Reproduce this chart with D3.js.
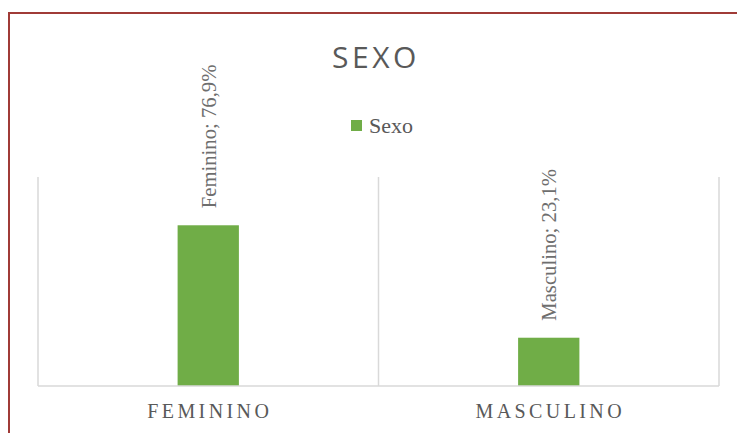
<!DOCTYPE html>
<html>
<head>
<meta charset="utf-8">
<script src="https://cdn.jsdelivr.net/npm/d3@7"></script>
<style>
  body { margin: 0; background: #fff; }
</style>
</head>
<body>
<div id="chart"></div>
<script>
// Chart data
var categories = ["Feminino", "Masculino"];
var axisLabels = ["FEMININO", "MASCULINO"];
var values = [76.9, 23.1];
var seriesName = "Sexo";
var chartTitle = "SEXO";

var width = 737;
var height = 433;
var plot = { left: 38, right: 719, top: 177, bottom: 386 };
var barFrac = 0.18;
var green = "#70AD47";
var textGray = "#595959";
var labelGray = "#6E6E6E";
var gridGray = "#D9D9D9";

var svg = d3.select("#chart")
    .append("svg")
    .attr("width", width)
    .attr("height", height);

// outer frame (runs off the right and bottom edges)
svg.append("rect")
    .attr("x", 9)
    .attr("y", 13)
    .attr("width", width + 20)
    .attr("height", height + 20)
    .attr("fill", "none")
    .attr("stroke", "#A03B37")
    .attr("stroke-width", 2);

var x = d3.scaleBand()
    .domain(categories)
    .range([plot.left, plot.right])
    .padding(0);

var y = d3.scaleLinear()
    .domain([0, 100])
    .range([plot.bottom, plot.top]);

// vertical separators between categories
var edges = categories.map(function (c) { return x(c); }).concat([plot.right]);
svg.selectAll("line.sep")
    .data(edges)
    .enter()
    .append("line")
    .attr("class", "sep")
    .attr("x1", function (d) { return d; })
    .attr("x2", function (d) { return d; })
    .attr("y1", y(100))
    .attr("y2", y(0))
    .attr("stroke", gridGray)
    .attr("stroke-width", 1.5);

// bars
var bw = x.bandwidth() * barFrac;
svg.selectAll("rect.bar")
    .data(values)
    .enter()
    .append("rect")
    .attr("class", "bar")
    .attr("x", function (d, i) { return x(categories[i]) + (x.bandwidth() - bw) / 2; })
    .attr("y", function (d) { return y(d); })
    .attr("width", bw)
    .attr("height", function (d) { return y(0) - y(d); })
    .attr("fill", green);

// baseline
svg.append("line")
    .attr("x1", plot.left)
    .attr("x2", plot.right)
    .attr("y1", y(0))
    .attr("y2", y(0))
    .attr("stroke", gridGray)
    .attr("stroke-width", 1.5);

// rotated data labels
svg.selectAll("text.dlabel")
    .data(values)
    .enter()
    .append("text")
    .attr("class", "dlabel")
    .attr("transform", function (d, i) {
        var cx = x(categories[i]) + x.bandwidth() / 2;
        return "translate(" + cx + "," + (y(d) - 17) + ") rotate(-90)";
    })
    .attr("dy", "0.35em")
    .attr("text-anchor", "start")
    .style("font-family", "'Liberation Serif', 'Times New Roman', serif")
    .style("font-size", "20.7px")
    .attr("fill", labelGray)
    .text(function (d, i) {
        return categories[i] + "; " + d.toFixed(1).replace(".", ",") + "%";
    });

// category labels
svg.selectAll("text.cat")
    .data(axisLabels)
    .enter()
    .append("text")
    .attr("class", "cat")
    .attr("x", function (d, i) { return x(categories[i]) + x.bandwidth() / 2 + 1.5; })
    .attr("y", 418)
    .attr("text-anchor", "middle")
    .style("font-family", "'Liberation Serif', 'Times New Roman', serif")
    .style("font-size", "20px")
    .style("letter-spacing", "3.4px")
    .attr("fill", textGray)
    .text(function (d) { return d; });

// title
svg.append("text")
    .attr("x", 376)
    .attr("y", 68)
    .attr("text-anchor", "middle")
    .style("font-family", "'Open Sans', sans-serif")
    .style("font-size", "30px")
    .style("letter-spacing", "3.5px")
    .attr("fill", textGray)
    .text(chartTitle);

// legend
var legend = svg.append("g");
legend.append("rect")
    .attr("x", 351)
    .attr("y", 120)
    .attr("width", 11)
    .attr("height", 11)
    .attr("fill", green);
legend.append("text")
    .attr("x", 369)
    .attr("y", 133)
    .style("font-family", "'Liberation Serif', 'Times New Roman', serif")
    .style("font-size", "22px")
    .attr("fill", textGray)
    .text(seriesName);
</script>
</body>
</html>
